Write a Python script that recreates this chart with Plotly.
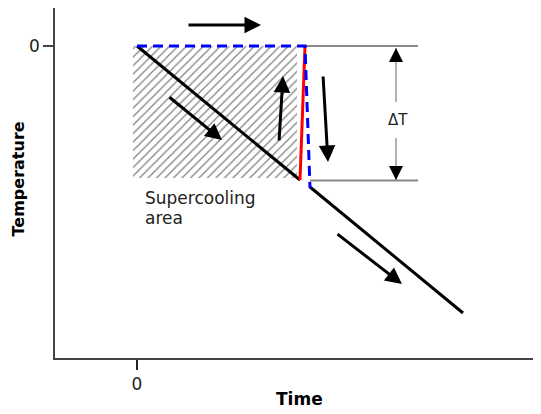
import plotly.graph_objects as go

# ---- data (time / temperature, arbitrary units) ----
cool_t = [0.0, 16.3]
cool_T = [0.0, -13.4]
recal_t = [16.3, 16.8]          # red recalescence jump
recal_T = [-13.4, 0.0]
ideal_t = [0.0, 16.8, 17.3]     # blue dashed ideal path
ideal_T = [0.0, 0.0, -14.2]
after_t = [17.3, 32.6]
after_T = [-14.1, -26.7]
hatch_t = [-0.4, 16.0, 16.0, -0.4, -0.4]
hatch_T = [0.0, 0.0, -13.2, -13.2, 0.0]
ref_upper_t = [16.8, 28.1]
ref_upper_T = [0.0, 0.0]
ref_lower_t = [17.3, 28.1]
ref_lower_T = [-13.45, -13.45]
dT_x = 25.9
dT_top, dT_bot = -0.2, -13.4
dT_gap_top, dT_gap_bot = -5.6, -9.2
# direction arrows: (tail_t, tail_T, head_t, head_T)
arrows = [
    (5.0, 2.1, 12.4, 2.1),
    (3.1, -5.0, 8.5, -9.4),
    (14.2, -9.6, 14.6, -3.0),
    (18.6, -2.9, 19.1, -11.6),
    (19.9, -18.7, 26.5, -23.8),
]
x_ticks = [0]
y_ticks = [0]
label_text = ["Supercooling", "area"]

FONT = "DejaVu Sans"

fig = go.Figure()
fig.add_trace(go.Scatter(x=hatch_t, y=hatch_T, mode="lines", fill="toself",
                         line=dict(width=0), fillcolor="rgba(0,0,0,0)",
                         fillpattern=dict(shape="/", size=6, solidity=0.2,
                                          fgcolor="black", bgcolor="white"),
                         hoverinfo="skip", showlegend=False))
for xs, ys in [(ref_upper_t, ref_upper_T), (ref_lower_t, ref_lower_T)]:
    fig.add_trace(go.Scatter(x=xs, y=ys, mode="lines",
                             line=dict(color="#888888", width=2), showlegend=False))
fig.add_trace(go.Scatter(x=[dT_x, dT_x], y=[dT_top, dT_gap_top], mode="lines",
                         line=dict(color="#888888", width=1.3), showlegend=False))
fig.add_trace(go.Scatter(x=[dT_x, dT_x], y=[dT_gap_bot, dT_bot], mode="lines",
                         line=dict(color="#888888", width=1.3), showlegend=False))
fig.add_trace(go.Scatter(x=cool_t, y=cool_T, mode="lines",
                         line=dict(color="black", width=3), showlegend=False))
fig.add_trace(go.Scatter(x=after_t, y=after_T, mode="lines",
                         line=dict(color="black", width=3), showlegend=False))
fig.add_trace(go.Scatter(x=recal_t, y=recal_T, mode="lines",
                         line=dict(color="red", width=3), showlegend=False))
fig.add_trace(go.Scatter(x=ideal_t, y=ideal_T, mode="lines",
                         line=dict(color="blue", width=3, dash="10px,6px"), showlegend=False))

annotations = []
for tx, ty, hx, hy in arrows:
    annotations.append(dict(x=hx, y=hy, ax=tx, ay=ty, xref="x", yref="y",
                            axref="x", ayref="y", text="", showarrow=True,
                            arrowhead=2, arrowwidth=3, arrowsize=1.1,
                            arrowcolor="black", standoff=0))
# delta-T heads
annotations.append(dict(x=dT_x, y=dT_top, ax=dT_x, ay=dT_top - 1.5, xref="x", yref="y",
                        axref="x", ayref="y", text="", showarrow=True, arrowhead=2,
                        arrowwidth=1, arrowsize=2.8, arrowcolor="black", standoff=0))
annotations.append(dict(x=dT_x, y=dT_bot, ax=dT_x, ay=dT_bot + 1.5, xref="x", yref="y",
                        axref="x", ayref="y", text="", showarrow=True, arrowhead=2,
                        arrowwidth=1, arrowsize=2.8, arrowcolor="black", standoff=0))
annotations.append(dict(x=dT_x + 0.2, y=(dT_gap_top + dT_gap_bot) / 2, text="ΔT",
                        showarrow=False, xref="x", yref="y",
                        font=dict(family=FONT, size=15, color="#222")))
annotations.append(dict(x=0.6, y=-15.2, text=label_text[0], showarrow=False,
                        xref="x", yref="y", xanchor="left", yanchor="middle",
                        font=dict(family=FONT, size=17, color="#222")))
annotations.append(dict(x=0.6, y=-17.2, text=label_text[1], showarrow=False,
                        xref="x", yref="y", xanchor="left", yanchor="middle",
                        font=dict(family=FONT, size=17, color="#222")))
annotations.append(dict(x=-0.0755, y=0.511, xref="paper", yref="paper",
                        text="<b>Temperature</b>", textangle=-90, showarrow=False,
                        xanchor="center", yanchor="middle",
                        font=dict(family=FONT, size=16, color="black")))
annotations.append(dict(x=0.504, y=-0.117, xref="paper", yref="paper", text="<b>Time</b>",
                        showarrow=False, xanchor="center", yanchor="middle",
                        font=dict(family=FONT, size=17, color="black")))

# page body has an 8px default margin; figure is sized to end at the window edge
fig.update_layout(
    width=533, height=406,
    margin=dict(l=47, r=0, t=0, b=56),
    plot_bgcolor="white", paper_bgcolor="white",
    font=dict(family=FONT, size=17, color="#222"),
    annotations=annotations,
    xaxis=dict(range=[-8.2, 40.4], showgrid=False, zeroline=False, showline=True,
               linecolor="#444", linewidth=1.5, ticks="outside", ticklen=10,
               tickcolor="#222", tickwidth=1.5, tickvals=x_ticks,
               ticktext=[str(v) for v in x_ticks]),
    yaxis=dict(range=[-31.2, 3.8], showgrid=False, zeroline=False, showline=True,
               linecolor="#444", linewidth=1.5, ticks="outside", ticklen=10,
               tickcolor="#444", tickwidth=1.5, tickvals=y_ticks,
               ticktext=[str(v) for v in y_ticks]),
)
fig.write_html("out.html")
